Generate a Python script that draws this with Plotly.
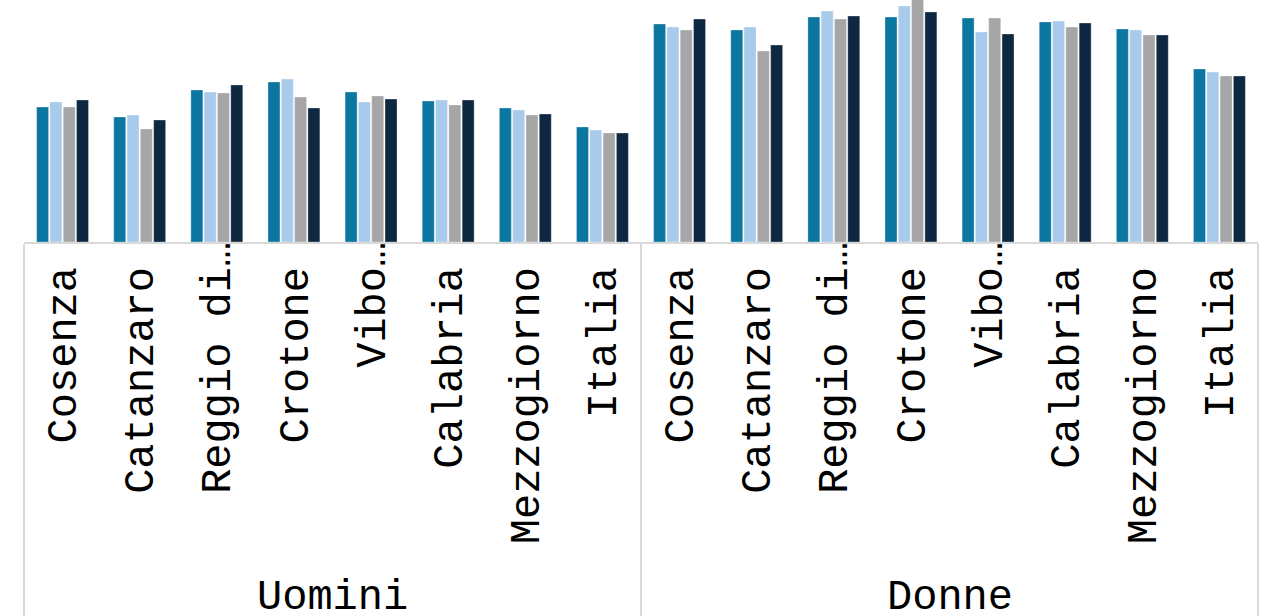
import plotly.graph_objects as go

groups = ["Uomini", "Donne"]
categories = ["Cosenza", "Catanzaro", "Reggio di…", "Crotone", "Vibo…",
              "Calabria", "Mezzogiorno", "Italia"]
series_names = ["Serie 1", "Serie 2", "Serie 3", "Serie 4"]
colors = ["#0B76A0", "#A8CAEB", "#A6A6A6", "#0E2841"]

s1 = [13.5, 12.5, 15.2, 16.0, 15.0, 14.1, 13.4, 11.5,
      21.8, 21.2, 22.5, 22.5, 22.4, 22.0, 21.3, 17.3]
s2 = [14.0, 12.7, 15.0, 16.3, 14.0, 14.2, 13.2, 11.2,
      21.5, 21.5, 23.1, 23.6, 21.0, 22.1, 21.2, 17.0]
s3 = [13.5, 11.3, 14.9, 14.5, 14.6, 13.7, 12.7, 10.9,
      21.2, 19.1, 22.3, 24.4, 22.4, 21.5, 20.7, 16.6]
s4 = [14.2, 12.2, 15.7, 13.4, 14.3, 14.2, 12.8, 10.9,
      22.3, 19.7, 22.6, 23.0, 20.8, 21.9, 20.7, 16.6]
values = [s1, s2, s3, s4]

# pad labels without ellipsis by one (non-breaking) space so that the text ends line up
labels = [c if c.endswith("…") else c + "\u00a0" for c in categories]
# the group level of the multicategory axis keeps its dividers; its (blank) keys are
# replaced by annotations that show the group names at the right height
group_keys = ["\u2002", "\u2003"]
x_outer = [k for k in group_keys for _ in labels]
x_inner = labels * len(groups)

fig = go.Figure()
for name, col, vals in zip(series_names, colors, values):
    fig.add_trace(go.Bar(
        x=[x_outer, x_inner], y=vals, name=name,
        marker=dict(color=col, line=dict(color="rgba(255,255,255,0.6)", width=0.5)),
    ))

font_family = "Liberation Mono, Courier New, monospace"
n_groups = len(groups)
for i, g in enumerate(groups):
    fig.add_annotation(
        text=g, xref="paper", yref="paper",
        x=(i + 0.5) / n_groups, y=-1.47, xanchor="center", yanchor="middle",
        showarrow=False, font=dict(family=font_family, size=42, color="#000000"),
    )

fig.update_layout(
    barmode="group", bargap=0.31, bargroupgap=0.1,
    width=1261, height=616,
    margin=dict(l=24, r=3, t=0, b=374, autoexpand=False),
    paper_bgcolor="white", plot_bgcolor="white",
    showlegend=False,
    font=dict(family=font_family, size=42, color="#000000"),
    xaxis=dict(
        type="multicategory", tickangle=-90, automargin=False,
        ticklabelstandoff=-19,
        showline=True, linecolor="#D9D9D9", linewidth=2,
        showdividers=True, dividercolor="#D9D9D9", dividerwidth=2,
        ticks="", showgrid=False,
        tickfont=dict(family=font_family, size=42, color="#000000"),
    ),
    yaxis=dict(visible=False, range=[0, 24.2], showgrid=False, zeroline=False,
               automargin=False),
)

fig.write_html("out.html")
